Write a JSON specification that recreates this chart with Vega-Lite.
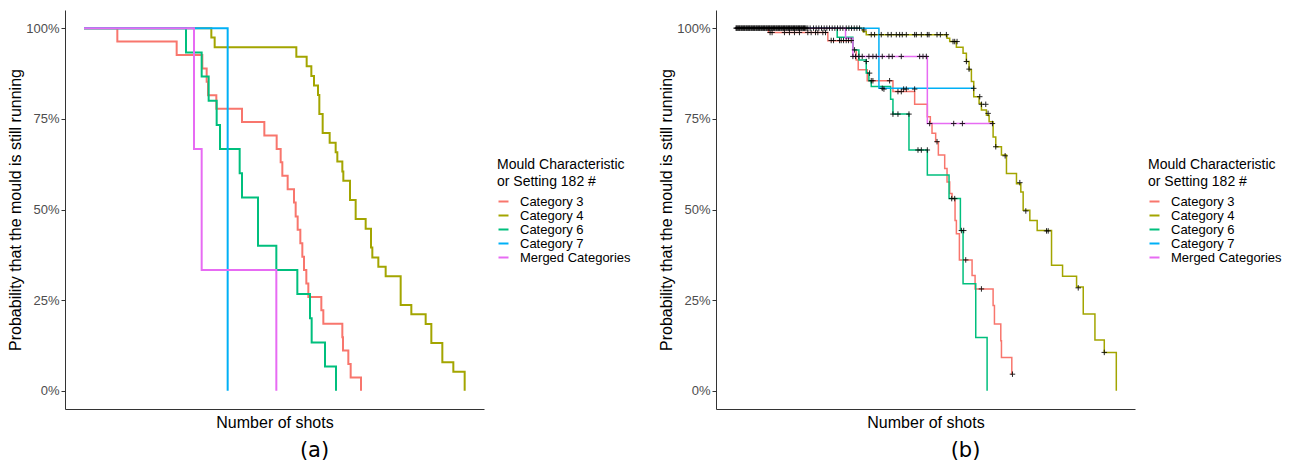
{
"$schema":"https://vega.github.io/schema/vega-lite/v6.json",
"padding":{"left":7,"top":10,"right":0,"bottom":0},
"bounds":"flush",
"spacing":232,
"config":{
 "view":{"stroke":null},
 "font":"Liberation Sans",
 "axis":{"grid":false,"domainColor":"#333333","domainWidth":1,"tickColor":"#333333","tickSize":4,"labelColor":"#4d4d4d","labelFontSize":13,"labelFont":"Liberation Sans","titleFont":"Liberation Sans","titleFontSize":16,"titleFontWeight":"normal","titleColor":"#000000"},
 "legend":{"orient":"none","legendX":432,"legendY":148,"titleFont":"Liberation Sans","titleFontSize":14,"titleFontWeight":"normal","titleColor":"#000000","titleLineHeight":17,"titlePadding":6,"labelFont":"Liberation Sans","labelFontSize":13,"labelColor":"#000000","symbolType":"stroke","symbolSize":100,"symbolStrokeWidth":2,"rowPadding":0,"labelOffset":10},
 "title":{"font":"DejaVu Sans","fontSize":21,"fontWeight":"normal","color":"#000000","orient":"bottom","anchor":"middle","dx":40,"offset":10}
},
"resolve":{"legend":{"color":"independent"}},
"datasets":{
"a":[
{"g":"Category 3","x":0,"s":1},{"g":"Category 3","x":100,"s":0.963},{"g":"Category 3","x":278,"s":0.926},{"g":"Category 3","x":355,"s":0.889},{"g":"Category 3","x":368,"s":0.852},{"g":"Category 3","x":372,"s":0.815},{"g":"Category 3","x":397,"s":0.778},{"g":"Category 3","x":474,"s":0.741},{"g":"Category 3","x":541,"s":0.704},{"g":"Category 3","x":578,"s":0.667},{"g":"Category 3","x":590,"s":0.63},{"g":"Category 3","x":595,"s":0.593},{"g":"Category 3","x":611,"s":0.556},{"g":"Category 3","x":630,"s":0.519},{"g":"Category 3","x":635,"s":0.481},{"g":"Category 3","x":641,"s":0.444},{"g":"Category 3","x":649,"s":0.407},{"g":"Category 3","x":655,"s":0.37},{"g":"Category 3","x":660,"s":0.333},{"g":"Category 3","x":667,"s":0.296},{"g":"Category 3","x":673,"s":0.259},{"g":"Category 3","x":712,"s":0.222},{"g":"Category 3","x":718,"s":0.185},{"g":"Category 3","x":775,"s":0.148},{"g":"Category 3","x":777,"s":0.111},{"g":"Category 3","x":793,"s":0.074},{"g":"Category 3","x":800,"s":0.037},{"g":"Category 3","x":831,"s":0},
{"g":"Category 4","x":0,"s":1},{"g":"Category 4","x":382,"s":0.974},{"g":"Category 4","x":392,"s":0.947},{"g":"Category 4","x":637,"s":0.921},{"g":"Category 4","x":668,"s":0.895},{"g":"Category 4","x":682,"s":0.868},{"g":"Category 4","x":690,"s":0.842},{"g":"Category 4","x":702,"s":0.816},{"g":"Category 4","x":706,"s":0.763},{"g":"Category 4","x":716,"s":0.711},{"g":"Category 4","x":737,"s":0.684},{"g":"Category 4","x":755,"s":0.658},{"g":"Category 4","x":760,"s":0.632},{"g":"Category 4","x":775,"s":0.605},{"g":"Category 4","x":778,"s":0.579},{"g":"Category 4","x":798,"s":0.526},{"g":"Category 4","x":815,"s":0.474},{"g":"Category 4","x":845,"s":0.447},{"g":"Category 4","x":861,"s":0.395},{"g":"Category 4","x":865,"s":0.368},{"g":"Category 4","x":883,"s":0.342},{"g":"Category 4","x":905,"s":0.316},{"g":"Category 4","x":950,"s":0.237},{"g":"Category 4","x":982,"s":0.211},{"g":"Category 4","x":1025,"s":0.184},{"g":"Category 4","x":1042,"s":0.132},{"g":"Category 4","x":1075,"s":0.079},{"g":"Category 4","x":1108,"s":0.053},{"g":"Category 4","x":1142,"s":0},
{"g":"Category 6","x":0,"s":1},{"g":"Category 6","x":306,"s":0.933},{"g":"Category 6","x":353,"s":0.867},{"g":"Category 6","x":374,"s":0.8},{"g":"Category 6","x":398,"s":0.733},{"g":"Category 6","x":408,"s":0.667},{"g":"Category 6","x":467,"s":0.6},{"g":"Category 6","x":474,"s":0.533},{"g":"Category 6","x":522,"s":0.4},{"g":"Category 6","x":577,"s":0.333},{"g":"Category 6","x":640,"s":0.267},{"g":"Category 6","x":678,"s":0.2},{"g":"Category 6","x":683,"s":0.133},{"g":"Category 6","x":723,"s":0.067},{"g":"Category 6","x":756,"s":0},
{"g":"Category 7","x":0,"s":1},{"g":"Category 7","x":431,"s":0},
{"g":"Merged Categories","x":0,"s":1},{"g":"Merged Categories","x":330,"s":0.667},{"g":"Merged Categories","x":353,"s":0.333},{"g":"Merged Categories","x":577,"s":0}
],
"b":[
{"g":"Category 3","x":0,"s":1},{"g":"Category 3","x":100,"s":0.988},{"g":"Category 3","x":278,"s":0.965},{"g":"Category 3","x":353,"s":0.94},{"g":"Category 3","x":363,"s":0.912},{"g":"Category 3","x":369,"s":0.885},{"g":"Category 3","x":396,"s":0.855},{"g":"Category 3","x":473,"s":0.825},{"g":"Category 3","x":538,"s":0.79},{"g":"Category 3","x":576,"s":0.756},{"g":"Category 3","x":585,"s":0.737},{"g":"Category 3","x":590,"s":0.71},{"g":"Category 3","x":601,"s":0.687},{"g":"Category 3","x":609,"s":0.65},{"g":"Category 3","x":628,"s":0.613},{"g":"Category 3","x":635,"s":0.576},{"g":"Category 3","x":643,"s":0.544},{"g":"Category 3","x":650,"s":0.53},{"g":"Category 3","x":659,"s":0.47},{"g":"Category 3","x":663,"s":0.433},{"g":"Category 3","x":672,"s":0.361},{"g":"Category 3","x":710,"s":0.318},{"g":"Category 3","x":719,"s":0.281},{"g":"Category 3","x":773,"s":0.235},{"g":"Category 3","x":777,"s":0.184},{"g":"Category 3","x":796,"s":0.138},{"g":"Category 3","x":798,"s":0.092},{"g":"Category 3","x":829,"s":0.046},{"g":"Category 3","x":831,"s":0.046},
{"g":"Category 4","x":0,"s":1},{"g":"Category 4","x":383,"s":0.991},{"g":"Category 4","x":393,"s":0.982},{"g":"Category 4","x":635,"s":0.972},{"g":"Category 4","x":643,"s":0.963},{"g":"Category 4","x":663,"s":0.947},{"g":"Category 4","x":683,"s":0.931},{"g":"Category 4","x":693,"s":0.908},{"g":"Category 4","x":701,"s":0.885},{"g":"Category 4","x":708,"s":0.853},{"g":"Category 4","x":715,"s":0.811},{"g":"Category 4","x":731,"s":0.793},{"g":"Category 4","x":738,"s":0.774},{"g":"Category 4","x":753,"s":0.76},{"g":"Category 4","x":761,"s":0.742},{"g":"Category 4","x":773,"s":0.7},{"g":"Category 4","x":781,"s":0.673},{"g":"Category 4","x":798,"s":0.65},{"g":"Category 4","x":813,"s":0.599},{"g":"Category 4","x":843,"s":0.571},{"g":"Category 4","x":856,"s":0.548},{"g":"Category 4","x":863,"s":0.498},{"g":"Category 4","x":883,"s":0.47},{"g":"Category 4","x":905,"s":0.442},{"g":"Category 4","x":948,"s":0.346},{"g":"Category 4","x":981,"s":0.316},{"g":"Category 4","x":1023,"s":0.286},{"g":"Category 4","x":1043,"s":0.212},{"g":"Category 4","x":1078,"s":0.14},{"g":"Category 4","x":1106,"s":0.106},{"g":"Category 4","x":1142,"s":0},
{"g":"Category 6","x":0,"s":1},{"g":"Category 6","x":306,"s":0.975},{"g":"Category 6","x":353,"s":0.94},{"g":"Category 6","x":371,"s":0.912},{"g":"Category 6","x":393,"s":0.876},{"g":"Category 6","x":401,"s":0.855},{"g":"Category 6","x":408,"s":0.839},{"g":"Category 6","x":466,"s":0.804},{"g":"Category 6","x":473,"s":0.763},{"g":"Category 6","x":521,"s":0.664},{"g":"Category 6","x":576,"s":0.595},{"g":"Category 6","x":641,"s":0.53},{"g":"Category 6","x":675,"s":0.442},{"g":"Category 6","x":683,"s":0.295},{"g":"Category 6","x":721,"s":0.147},{"g":"Category 6","x":755,"s":0},
{"g":"Category 7","x":0,"s":1},{"g":"Category 7","x":431,"s":0.834},{"g":"Category 7","x":715,"s":0.834},
{"g":"Merged Categories","x":0,"s":1},{"g":"Merged Categories","x":331,"s":0.972},{"g":"Merged Categories","x":353,"s":0.922},{"g":"Merged Categories","x":576,"s":0.737},{"g":"Merged Categories","x":771,"s":0.737}
],
"bc":[
{"x":3,"s":1},{"x":8,"s":1},{"x":13,"s":1},{"x":18,"s":1},{"x":23,"s":1},{"x":28,"s":1},{"x":33,"s":1},{"x":38,"s":1},{"x":43,"s":1},{"x":48,"s":1},{"x":53,"s":1},{"x":58,"s":1},{"x":63,"s":1},{"x":68,"s":1},{"x":73,"s":1},{"x":78,"s":1},{"x":83,"s":1},{"x":88,"s":1},{"x":93,"s":1},{"x":98,"s":1},{"x":103,"s":1},{"x":108,"s":1},{"x":113,"s":1},{"x":118,"s":1},{"x":123,"s":1},{"x":128,"s":1},{"x":133,"s":1},{"x":138,"s":1},{"x":143,"s":1},{"x":148,"s":1},{"x":153,"s":1},{"x":158,"s":1},{"x":163,"s":1},{"x":168,"s":1},{"x":173,"s":1},{"x":178,"s":1},{"x":183,"s":1},{"x":188,"s":1},{"x":193,"s":1},{"x":198,"s":1},{"x":203,"s":1},{"x":208,"s":1},{"x":213,"s":1},
{"x":5,"s":1},{"x":10,"s":1},{"x":15,"s":1},{"x":20,"s":1},{"x":25,"s":1},{"x":30,"s":1},{"x":35,"s":1},{"x":40,"s":1},{"x":45,"s":1},{"x":50,"s":1},{"x":55,"s":1},{"x":60,"s":1},{"x":65,"s":1},{"x":70,"s":1},{"x":75,"s":1},{"x":80,"s":1},{"x":85,"s":1},{"x":90,"s":1},{"x":95,"s":1},{"x":100,"s":1},{"x":105,"s":1},{"x":110,"s":1},{"x":115,"s":1},{"x":120,"s":1},{"x":125,"s":1},{"x":130,"s":1},{"x":135,"s":1},{"x":140,"s":1},{"x":145,"s":1},{"x":150,"s":1},{"x":155,"s":1},{"x":160,"s":1},{"x":165,"s":1},{"x":170,"s":1},{"x":175,"s":1},{"x":180,"s":1},{"x":185,"s":1},{"x":190,"s":1},{"x":195,"s":1},{"x":200,"s":1},{"x":205,"s":1},{"x":210,"s":1},
{"x":218,"s":1},{"x":225,"s":1},{"x":235,"s":1},{"x":243,"s":1},{"x":251,"s":1},{"x":259,"s":1},{"x":267,"s":1},{"x":275,"s":1},{"x":283,"s":1},{"x":291,"s":1},{"x":299,"s":1},{"x":307,"s":1},{"x":315,"s":1},{"x":323,"s":1},{"x":333,"s":1},{"x":341,"s":1},{"x":349,"s":1},{"x":357,"s":1},{"x":365,"s":1},{"x":373,"s":1},
{"x":105,"s":0.988},{"x":111,"s":0.988},{"x":148,"s":0.988},{"x":163,"s":0.988},{"x":178,"s":0.988},{"x":193,"s":0.988},{"x":218,"s":0.988},{"x":228,"s":0.988},{"x":241,"s":0.988},{"x":248,"s":0.988},{"x":263,"s":0.988},{"x":271,"s":0.988},
{"x":288,"s":0.966},{"x":295,"s":0.966},{"x":313,"s":0.966},{"x":318,"s":0.966},{"x":325,"s":0.966},{"x":333,"s":0.966},{"x":340,"s":0.966},{"x":348,"s":0.966},
{"x":386,"s":0.995},
{"x":408,"s":0.982},{"x":418,"s":0.982},{"x":438,"s":0.982},{"x":458,"s":0.982},{"x":468,"s":0.982},{"x":483,"s":0.982},{"x":493,"s":0.982},{"x":501,"s":0.982},{"x":513,"s":0.982},{"x":538,"s":0.982},{"x":543,"s":0.982},{"x":558,"s":0.982},{"x":576,"s":0.982},{"x":581,"s":0.982},{"x":605,"s":0.982},{"x":615,"s":0.982},{"x":633,"s":0.982},
{"x":653,"s":0.963},{"x":658,"s":0.963},{"x":665,"s":0.963},
{"x":693,"s":0.908},{"x":701,"s":0.887},{"x":715,"s":0.834},{"x":733,"s":0.811},{"x":738,"s":0.79},{"x":751,"s":0.79},{"x":758,"s":0.765},{"x":771,"s":0.737},{"x":781,"s":0.673},{"x":809,"s":0.648},{"x":853,"s":0.574},{"x":871,"s":0.496},{"x":933,"s":0.441},{"x":938,"s":0.441},{"x":1028,"s":0.284},{"x":1106,"s":0.106},
{"x":353,"s":0.922},{"x":361,"s":0.922},{"x":371,"s":0.922},{"x":381,"s":0.922},{"x":401,"s":0.922},{"x":413,"s":0.922},{"x":423,"s":0.922},{"x":441,"s":0.922},{"x":461,"s":0.922},{"x":471,"s":0.922},{"x":498,"s":0.922},{"x":553,"s":0.922},{"x":563,"s":0.922},{"x":573,"s":0.922},
{"x":358,"s":0.94},{"x":393,"s":0.908},{"x":403,"s":0.876},{"x":408,"s":0.855},{"x":413,"s":0.855},
{"x":441,"s":0.834},{"x":446,"s":0.832},{"x":463,"s":0.855},{"x":488,"s":0.825},{"x":498,"s":0.825},{"x":505,"s":0.832},{"x":513,"s":0.832},{"x":538,"s":0.832},
{"x":473,"s":0.763},{"x":488,"s":0.763},{"x":521,"s":0.763},
{"x":548,"s":0.664},{"x":558,"s":0.664},{"x":576,"s":0.664},
{"x":583,"s":0.737},{"x":605,"s":0.687},{"x":649,"s":0.53},{"x":658,"s":0.53},{"x":678,"s":0.442},{"x":685,"s":0.442},{"x":691,"s":0.361},{"x":738,"s":0.281},{"x":831,"s":0.046},
{"x":655,"s":0.737},{"x":681,"s":0.737}
]
},
"hconcat":[
{
 "width":419,"height":399,
 "title":{"text":"(a)"},
 "data":{"name":"a"},
 "mark":{"type":"line","interpolate":"step-after","strokeWidth":2},
 "encoding":{
  "x":{"field":"x","type":"quantitative","scale":{"domain":[-57,1200],"nice":false,"zero":false},"axis":{"title":"Number of shots","labels":false,"ticks":false,"titlePadding":5}},
  "y":{"field":"s","type":"quantitative","scale":{"domain":[-0.05,1.05],"nice":false,"zero":false},"axis":{"title":"Probability that the mould is still running","values":[0,0.25,0.5,0.75,1],"format":".0%","titlePadding":2,"labelPadding":2}},
  "color":{"field":"g","type":"nominal","scale":{"domain":["Category 3","Category 4","Category 6","Category 7","Merged Categories"],"range":["#F8766D","#A3A500","#00BF7D","#00B0F6","#E76BF3"]},"legend":{"title":["Mould Characteristic","or Setting 182 #"]}}
 }
},
{
 "width":419,"height":399,
 "title":{"text":"(b)"},
 "encoding":{
  "x":{"field":"x","type":"quantitative","scale":{"domain":[-57,1198],"nice":false,"zero":false},"axis":{"title":"Number of shots","labels":false,"ticks":false,"titlePadding":5}},
  "y":{"field":"s","type":"quantitative","scale":{"domain":[-0.05,1.05],"nice":false,"zero":false},"axis":{"title":"Probability that the mould is still running","values":[0,0.25,0.5,0.75,1],"format":".0%","titlePadding":2,"labelPadding":2}}
 },
 "layer":[
  {"data":{"name":"b"},
   "mark":{"type":"line","interpolate":"step-after","strokeWidth":1.5},
   "encoding":{"color":{"field":"g","type":"nominal","scale":{"domain":["Category 3","Category 4","Category 6","Category 7","Merged Categories"],"range":["#F8766D","#A3A500","#00BF7D","#00B0F6","#E76BF3"]},"legend":{"title":["Mould Characteristic","or Setting 182 #"]}}}},
  {"data":{"name":"bc"},
   "mark":{"type":"point","shape":"M-1,0L1,0M0,-1L0,1","filled":false,"stroke":"#000000","strokeWidth":1,"size":30,"opacity":0.85},
   "encoding":{}}
 ]
}
]
}
